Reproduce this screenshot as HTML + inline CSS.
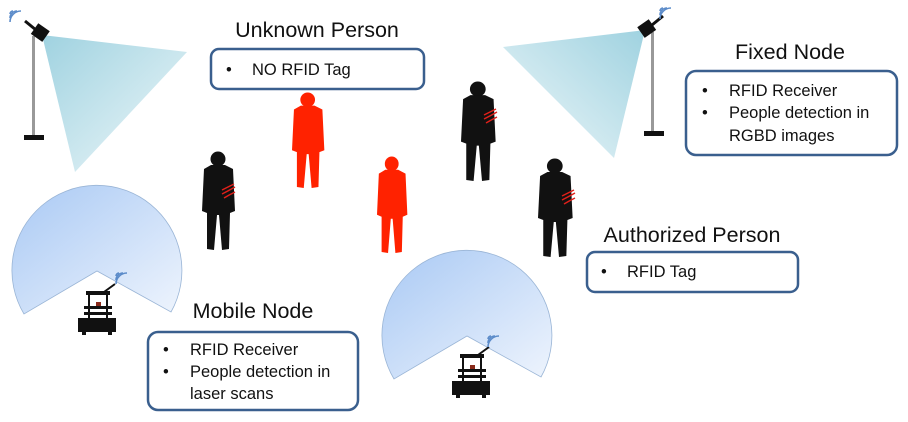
<!DOCTYPE html>
<html><head><meta charset="utf-8"><style>
html,body{margin:0;padding:0;background:#fff;}
svg{display:block;font-family:"Liberation Sans",sans-serif;}
</style></head><body>
<svg width="908" height="422" viewBox="0 0 908 422" xmlns="http://www.w3.org/2000/svg">
<defs>
<linearGradient id="cone" x1="0" y1="0" x2="1" y2="1">
<stop offset="0" stop-color="#9fd2e0"/><stop offset="1" stop-color="#f0f8fa"/></linearGradient>
<linearGradient id="cone2" x1="1" y1="0" x2="0" y2="1">
<stop offset="0" stop-color="#9fd2e0"/><stop offset="1" stop-color="#f0f8fa"/></linearGradient>
<linearGradient id="laser" x1="0" y1="0" x2="1" y2="1">
<stop offset="0" stop-color="#a9c9f4"/><stop offset="1" stop-color="#eef4fd"/></linearGradient>
<g id="person">
<circle cx="16" cy="8" r="7.5"/>
<path d="M9 14 L23 14 L31 18 L33 60 L28 62 L27 98 L20 99 L17 64 L15 64 L12 99 L5 98 L5 62 L0 60 L2 18 Z"/>
</g>
<g id="robot">
<rect x="8" y="8" width="24" height="4" fill="#111"/>
<line x1="26" y1="9" x2="37" y2="1" stroke="#111" stroke-width="2"/>
<rect x="10" y="12" width="2" height="30" fill="#111"/><rect x="28" y="12" width="2" height="30" fill="#111"/>
<rect x="18" y="19" width="5" height="4" fill="#8a2a1a"/>
<rect x="6" y="23" width="28" height="3" fill="#111"/>
<rect x="6" y="29" width="28" height="3" fill="#111"/>
<rect x="0" y="35" width="38" height="14" fill="#111"/>
<rect x="4" y="49" width="4" height="3" fill="#111"/><rect x="30" y="49" width="4" height="3" fill="#111"/>
</g>
<g id="wifi" fill="none" stroke="#5b8bc9" stroke-width="1.6">
<path d="M0 6 A3 3 0 0 1 3 3"/><path d="M0 10 A7 7 0 0 1 7 3"/><path d="M0 14 A11 11 0 0 1 11 3"/>
</g>
</defs>

<polygon points="42,35 187,52 75,172" fill="url(#cone)"/>
<rect x="32" y="36" width="3" height="100" fill="#999"/>
<rect x="24" y="135" width="20" height="5" fill="#111"/>
<g transform="translate(40,33) rotate(35)"><rect x="-7" y="-7" width="14" height="13" fill="#111"/></g>
<line x1="25" y1="21" x2="36" y2="30" stroke="#111" stroke-width="3"/>
<use href="#wifi" transform="translate(10,8)"/>

<polygon points="645,30 503,47 614,158" fill="url(#cone2)"/>
<rect x="651" y="32" width="3" height="100" fill="#999"/>
<rect x="644" y="131" width="20" height="5" fill="#111"/>
<g transform="translate(647,29) rotate(-35)"><rect x="-7" y="-7" width="14" height="13" fill="#111"/></g>
<line x1="652" y1="25" x2="663" y2="16" stroke="#111" stroke-width="3"/>
<use href="#wifi" transform="translate(660,5)"/>

<path d="M97 271 L24 314 A85 85 0 1 1 171 312 Z" fill="url(#laser)" stroke="#9ab5d6" stroke-width="0.8"/>
<path d="M467 336 L394 379 A85 85 0 1 1 541 377 Z" fill="url(#laser)" stroke="#9ab5d6" stroke-width="0.8"/>
<use href="#robot" transform="translate(78,283)"/>
<use href="#wifi" transform="translate(116,270)"/>
<use href="#robot" transform="translate(452,346)"/>
<use href="#wifi" transform="translate(488,333)"/>

<g fill="#ff2200">
<use href="#person" transform="translate(292,92) scale(0.98,0.97)"/>
<use href="#person" transform="translate(377,156) scale(0.92,0.98)"/>
</g>
<g fill="#111">
<use href="#person" transform="translate(202,151) scale(1,1)"/>
<use href="#person" transform="translate(461,81) scale(1.05,1.01)"/>
<use href="#person" transform="translate(538,158) scale(1.05,1.0)"/>
</g>
<g fill="none" stroke="#e0201a" stroke-width="1.5">
<path d="M222 190 q6 -3 12 -6 M222 194 q6 -3 13 -7 M224 198 q5 -3 11 -6"/>
<path d="M484 115 q6 -3 12 -6 M484 119 q6 -3 13 -7 M486 123 q5 -3 11 -6"/>
<path d="M562 196 q6 -3 12 -6 M562 200 q6 -3 13 -7 M564 204 q5 -3 11 -6"/>
</g>

<g font-size="21.5" fill="#111" text-anchor="middle">
<text x="317" y="37">Unknown Person</text>
<text x="790" y="59">Fixed Node</text>
<text x="692" y="242">Authorized Person</text>
<text x="253" y="318">Mobile Node</text>
</g>
<g fill="#fff" stroke="#3a5f8e" stroke-width="2.5">
<rect x="211" y="49" width="213" height="40" rx="8"/>
<rect x="686" y="71" width="211" height="84" rx="10"/>
<rect x="587" y="252" width="211" height="40" rx="8"/>
<rect x="148" y="332" width="210" height="78" rx="10"/>
</g>
<g font-size="16.5" fill="#111">
<text x="226" y="75">•</text><text x="252" y="75">NO RFID Tag</text>
<text x="702" y="96">•</text><text x="729" y="96">RFID Receiver</text>
<text x="702" y="118">•</text><text x="729" y="118">People detection in</text>
<text x="729" y="141">RGBD images</text>
<text x="601" y="277">•</text><text x="627" y="277">RFID Tag</text>
<text x="163" y="355">•</text><text x="190" y="355">RFID Receiver</text>
<text x="163" y="377">•</text><text x="190" y="377">People detection in</text>
<text x="190" y="399">laser scans</text>
</g>
</svg>
</body></html>
